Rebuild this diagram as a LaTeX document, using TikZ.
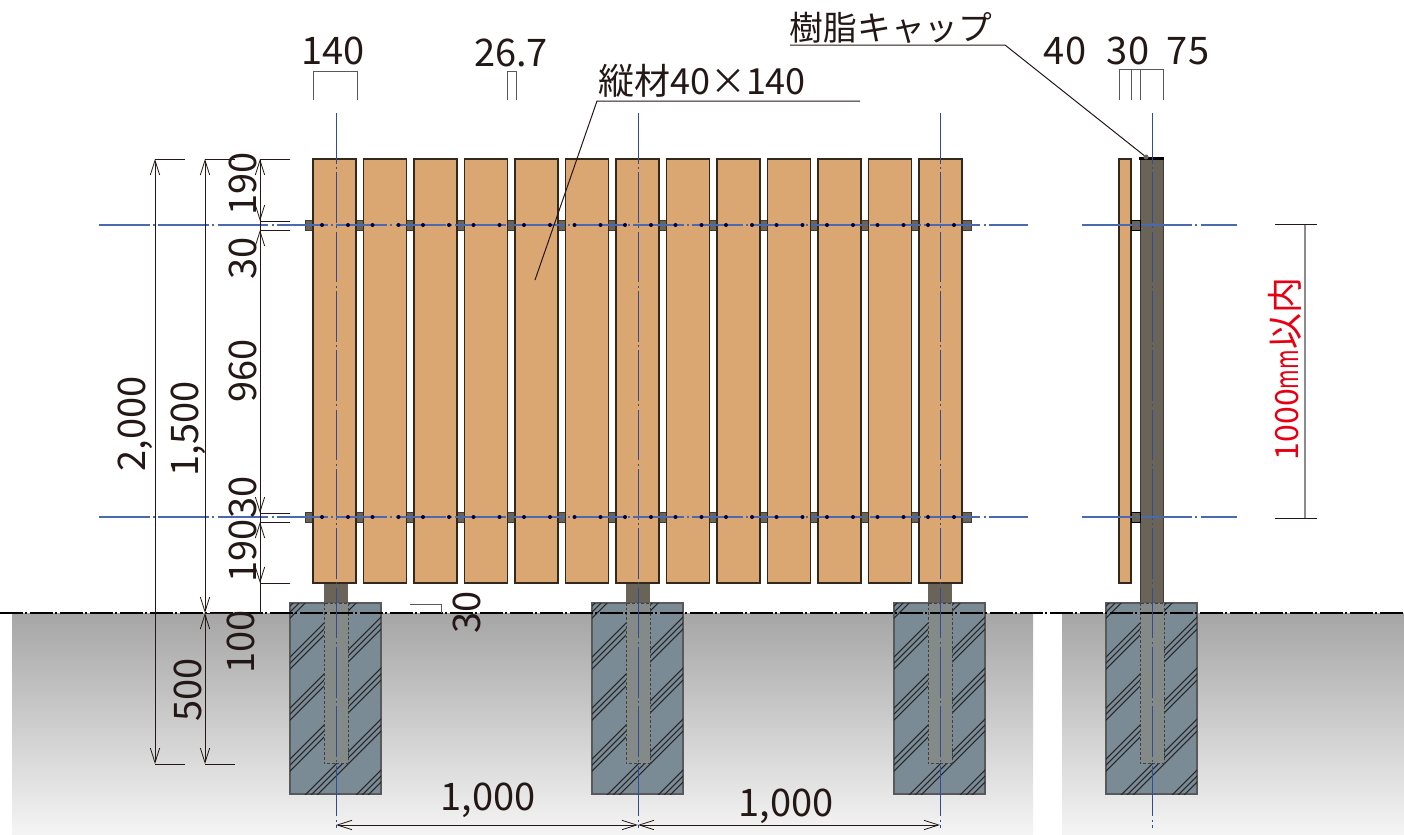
\documentclass[tikz,border=0pt]{standalone}
\usepackage{fontspec}
\setmainfont{Noto Sans CJK JP}
\usepackage{xcolor}
\usetikzlibrary{arrows.meta,positioning}
\definecolor{woodfill}{RGB}{218,166,114}
\definecolor{woodline}{RGB}{50,40,30}
\definecolor{postfill}{RGB}{106,99,88}
\definecolor{footfill}{RGB}{122,139,150}
\definecolor{corefill}{RGB}{132,138,136}
\definecolor{axisblue}{RGB}{50,75,150}
\definecolor{axislight}{RGB}{75,105,175}
\definecolor{dimline}{RGB}{35,24,21}
\definecolor{redlabel}{RGB}{230,0,18}
\tikzstyle{slatbox} = [draw=woodline, fill=woodfill, line width=0.8pt]
\tikzstyle{postbox} = [draw=postfill!60!black, fill=postfill, line width=0.7pt]
\tikzstyle{axis} = [draw=axisblue, line width=0.6pt, dash pattern=on 38pt off 2.5pt on 1.5pt off 2.5pt]
\tikzstyle{axisflat} = [axis, draw=axislight, line width=0.9pt]
\tikzstyle{dim} = [draw=dimline, line width=0.75pt, >={Straight Barb[length=11pt,width=7pt,line width=0.6pt]}]
\tikzstyle{dimtext} = [text=dimline, font=\fontsize{28.5}{28.5}\selectfont, inner sep=0pt]
\begin{document}
\begin{tikzpicture}[x=0.75pt,y=-0.75pt]
\useasboundingbox (0,0) rectangle (1404,835);

% Ground
\shade[top color=black!35, bottom color=black!4] (12,613) rectangle (1033,835);
\shade[top color=black!35, bottom color=black!4] (1062,613) rectangle (1404,835);

% Rails and front posts
\foreach \px in {336,638,940} {
  \fill[postfill] (\px-12,583) rectangle (\px+12,604);
}
\foreach \ry in {225,517} {
  \draw[postbox] (305,\ry-5) rectangle (971,\ry+5);
}

% Slats
\foreach \sx in {313,363.5,414,464.5,515,565.5,616,666.5,717,767.5,818,868.5,919} {
  \draw[slatbox] (\sx,159) rectangle (\sx+43,583);
}

% Side view
\draw[slatbox] (1119,159) rectangle (1131,583);
\draw[postbox] (1140,159) rectangle (1163,604);
\foreach \ry in {225,517} {
  \draw[postbox, draw=black] (1131,\ry-5) rectangle (1140,\ry+5);
}
\fill[black] (1139,157) rectangle (1164,160);

% Footings
\foreach \fx in {336,638,940,1152} {
  \begin{scope}
    \draw[fill=footfill, draw=black!65, line width=0.8pt] (\fx-46,603) rectangle (\fx+45,794);
    \clip (\fx-46,603) rectangle (\fx+45,794);
    \foreach \hc in {566,617,668,719,770,821} {
      \foreach \hd in {-6,0,6} {
        \draw[black!85, line width=0.8pt] (\fx-60,\hc+\hd+60) -- (\fx+60,\hc+\hd-60);
      }
    }
  \end{scope}
  \draw[fill=corefill, draw=black!75, line width=0.7pt, dash pattern=on 2pt off 1.5pt] (\fx-12,603) rectangle (\fx+12,763);
}
\draw[line width=0.8pt, draw=black, dash pattern=on 17pt off 2pt on 1.5pt off 2pt] (0,613) -- (1404,613);

% Center lines
\foreach \cx in {336,638,940,1152} {
  \draw[axis] (\cx,113) -- (\cx,828);
}
\draw[axisflat] (99,225) -- (1028,225);
\draw[axisflat] (99,517) -- (1028,517);
\draw[axisflat] (1082,225) -- (1237,225);
\draw[axisflat] (1082,517) -- (1237,517);

% Rail screws
\foreach \sx in {313,363.5,414,464.5,515,565.5,616,666.5,717,767.5,818,868.5,919} {
  \foreach \ry in {225,517} {
    \fill[black!75!blue] (\sx+9,\ry) circle (2);
    \fill[black!75!blue] (\sx+35,\ry) circle (2);
  }
}

% Dimension lines left
\draw[dim, <->] (155,159) -- (155,764);
\draw[dim, <->] (205,159) -- (205,613);
\draw[dim, <->] (205,613) -- (205,764);
\draw[dim] (260,159) -- (260,613);
\draw[dim, <->] (260,159) -- (260,221);
\draw[dim, <-] (260,230) -- (260,280);
\draw[dim, ->] (260,460) -- (260,513);
\draw[dim, <->] (260,522) -- (260,583);
\draw[dim] (155,159) -- (185,159);
\draw[dim] (205,159) -- (235,159);
\draw[dim] (260,159) -- (290,159);
\draw[dim] (260,221) -- (290,221);
\draw[dim] (260,230) -- (290,230);
\draw[dim] (260,513) -- (290,513);
\draw[dim] (260,522) -- (290,522);
\draw[dim] (260,583) -- (290,583);
\draw[dim] (205,613) -- (235,613);
\draw[dim] (155,764) -- (185,764);
\draw[dim] (205,764) -- (235,764);

% Dimension lines top
\draw[dim, draw=black!65] (313,100) -- (313,71) -- (357,71) -- (357,100);
\draw[dim, draw=black!65] (507,100) -- (507,71) -- (516,71) -- (516,100);
\draw[dim, draw=black!65] (1119,100) -- (1119,69) -- (1163,69) -- (1163,100);
\draw[dim, draw=black!65] (1131,69) -- (1131,100);
\draw[dim, draw=black!65] (1140,69) -- (1140,100);
\draw[dim, draw=black!65] (410,604) -- (441,604) -- (441,613);

% Dimension lines bottom and right
\draw[dim, <->] (336,825) -- (638,825);
\draw[dim, <->] (638,825) -- (940,825);
\draw[dim, draw=black!45, line width=1pt] (1305,224) -- (1305,518);
\draw[dim] (1275,224) -- (1317,224);
\draw[dim] (1275,518) -- (1317,518);

% Labels
\node[dimtext] (w140) at (333,51) {140};
\node[dimtext] (w267) at (511,53) {26.7};
\node[dimtext] (w40) at (1065,51) {40};
\node[dimtext] (w30) at (1128,51) {30};
\node[dimtext] (w75) at (1188,51) {75};
\node[dimtext, rotate=90] (h2000) at (135,424) {2,000};
\node[dimtext, rotate=90] (h1500) at (188,429) {1,500};
\node[dimtext, rotate=90] (h190a) at (243,184) {190};
\node[dimtext, rotate=90] (h30a) at (243,258) {30};
\node[dimtext, rotate=90] (h960) at (243,371) {960};
\node[dimtext, rotate=90] (h30b) at (243,497) {30};
\node[dimtext, rotate=90] (h190b) at (243,551) {190};
\node[dimtext, rotate=90] (h100) at (241,642) {100};
\node[dimtext, rotate=90] (h500) at (188,690) {500};
\node[dimtext, rotate=90] (h30c) at (467,612) {30};
\node[dimtext] (s1000a) at (488,800) {1,000};
\node[dimtext] (s1000b) at (786,806) {1,000};
\node[dimtext, rotate=90, text=redlabel, font=\fontsize{24}{24}\selectfont] (limit) at (1285,369) {1000\scalebox{0.66}[1]{mm}{\fontsize{27}{27}\selectfont 以内}};
\node[dimtext, font=\fontsize{27}{27}\selectfont] (slatlabel) at (702,81) {縦材40×140};
\node[dimtext, font=\fontsize{25.3}{25.3}\selectfont] (caplabel) at (891,28) {樹脂キャップ};

% Leaders
\coordinate (capend) at (1146,157);
\coordinate (slatend) at (535,280);
\draw[dim] (790,45) -- (1005,45) -- (capend);
\fill[postfill] (capend) circle (2.5);
\draw[dim] (860,101) -- (597,101) -- (slatend);
\end{tikzpicture}
\end{document}
